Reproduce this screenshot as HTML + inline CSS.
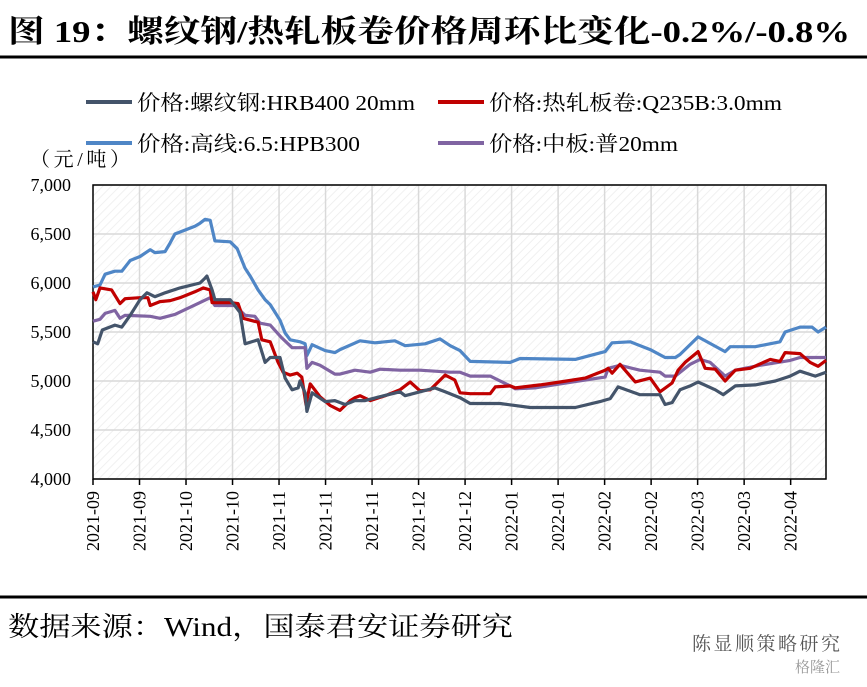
<!DOCTYPE html>
<html><head><meta charset="utf-8">
<style>
body{margin:0;background:#fff;}
svg text{font-family:"Liberation Serif","Noto Serif CJK SC",serif;}
</style></head>
<body>
<svg id="chart" width="867" height="682" viewBox="0 0 867 682" xmlns="http://www.w3.org/2000/svg">
<defs>
<pattern id="hatch" width="6" height="6" patternUnits="userSpaceOnUse" patternTransform="rotate(45)">
<rect width="6" height="6" fill="#fff"/><line x1="0" y1="0" x2="0" y2="6" stroke="#ececec" stroke-width="1.5"/>
</pattern>
</defs>
<text x="8" y="42" font-size="31" font-weight="bold" textLength="842" lengthAdjust="spacingAndGlyphs">图 19：螺纹钢/热轧板卷价格周环比变化-0.2%/-0.8%</text>
<line x1="0" y1="57" x2="867" y2="57" stroke="#000" stroke-width="3"/>
<line x1="0" y1="597" x2="867" y2="597" stroke="#000" stroke-width="3"/>
<text x="8" y="636" font-size="27" textLength="505" lengthAdjust="spacingAndGlyphs">数据来源：Wind，国泰君安证券研究</text>
<text x="692" y="650" font-size="19" fill="#555" textLength="148" font-family="Noto Sans CJK SC,sans-serif">陈显顺策略研究</text>
<text x="795" y="672" font-size="15" fill="#999" font-family="Noto Sans CJK SC,sans-serif">格隆汇</text>

<g>
<g><line x1="86" y1="102" x2="132" y2="102" stroke="#44546a" stroke-width="4"/><text x="137" y="110" font-size="21" textLength="278" lengthAdjust="spacingAndGlyphs">价格:螺纹钢:HRB400 20mm</text></g>
<g><line x1="438" y1="102" x2="484" y2="102" stroke="#c00000" stroke-width="4"/><text x="489" y="110" font-size="21" textLength="293" lengthAdjust="spacingAndGlyphs">价格:热轧板卷:Q235B:3.0mm</text></g>
<g><line x1="86" y1="143" x2="132" y2="143" stroke="#4f86c6" stroke-width="4"/><text x="137" y="151" font-size="21" textLength="223" lengthAdjust="spacingAndGlyphs">价格:高线:6.5:HPB300</text></g>
<g><line x1="438" y1="143" x2="484" y2="143" stroke="#8064a2" stroke-width="4"/><text x="489" y="151" font-size="21" textLength="189" lengthAdjust="spacingAndGlyphs">价格:中板:普20mm</text></g>
</g>
<text x="30" y="166" font-size="20" textLength="100">（元/吨）</text>
<rect x="93" y="185" width="733" height="294" fill="url(#hatch)"/>
<g id="grid"></g>
<g id="axes"></g>
<g id="series"></g>
</svg>
<script>
const yTicks=[4000,4500,5000,5500,6000,6500,7000];
const xLabels=["2021-09","2021-09","2021-10","2021-10","2021-11","2021-11","2021-11","2021-12","2021-12","2022-01","2022-01","2022-02","2022-02","2022-03","2022-03","2022-04"];
const seriesNames=["hrb400","q235b","hpb300","plate"];
const hrbDay=[0,1,2,4.7,6.2,8,10.1,11.6,13.3,15.5,18.7,23,24.1,24.5,25.6,26.2,29.5,31.6,32.7,35.5,37,38.1,40.2,41.3,42.8,44.1,44.5,45.6,46,47.1,49.9,52,54.2,56.3,58.5,61.7,66,67.1,70.3,73.5,75.7,78.9,81.1,87.5,94,103.7,109,111.2,112.9,117.6,121.9,123,124.5,126.2,128.4,130.1,133.8,135.5,138.1,142.4,146.7,149.9,152,155.3,157.6];
const hrbVal=[5400,5380,5520,5570,5550,5670,5830,5900,5860,5900,5950,6000,6050,6070,5930,5830,5830,5700,5380,5420,5190,5240,5240,5030,4910,4930,5000,4880,4690,4880,4790,4800,4760,4800,4800,4840,4890,4850,4890,4930,4890,4830,4770,4770,4730,4730,4790,4820,4940,4860,4860,4760,4780,4910,4950,4990,4910,4860,4950,4960,5000,5050,5100,5050,5090];
const q235Day=[0,0.6,1.5,4,5.8,6.9,10.1,11.8,12.3,14.4,16.6,18.7,21.9,23.7,25.2,25.6,29.5,31.2,32.3,33.8,35.5,36.3,38.1,39.8,40.9,42.4,43.9,44.9,45.8,46.7,48.8,51,53.1,55.3,56.3,57.4,59.6,62.8,66,68.2,70.3,72.5,75.7,77.8,78.9,81.1,85.4,86.5,89.7,90.8,96.1,100.4,105.8,110.1,110.8,111.6,113.3,116.6,119.8,121.9,124.5,125.8,127.3,130.1,131.6,133.8,135.9,138.1,141.3,145.6,147.7,148.8,152,154.2,155.9,157.6];
const q235Val=[5910,5830,5950,5930,5790,5840,5850,5850,5770,5810,5820,5850,5910,5950,5930,5800,5800,5790,5640,5620,5600,5420,5400,5190,5090,5060,5080,5040,4760,4970,4840,4750,4700,4800,4830,4850,4800,4850,4910,4990,4900,4910,5060,5010,4880,4870,4870,4940,4950,4930,4960,4990,5030,5110,5130,5080,5170,4990,5030,4890,4980,5110,5190,5300,5130,5120,5000,5110,5130,5220,5200,5290,5280,5190,5150,5210];
const hpbDay=[0,1.5,2.6,4.7,6.2,8,10.1,12.3,13.3,15.5,16.6,17.6,21.9,23,24.1,25.2,26.2,29.5,31,32.7,33.8,35.5,37,38.1,40.2,41.3,42.4,44.5,45.6,46,47.1,49.9,52,53.1,57.4,60.6,64.9,67.1,71.4,74.6,76.8,78.9,81.1,89.7,91.8,103.7,110.1,111.6,115.5,119.8,123,125.2,126.2,130.1,135.9,137,142.4,147.7,148.8,152,154.6,155.9,157.6];
const hpbVal=[5960,5980,6090,6120,6120,6230,6270,6340,6310,6320,6410,6500,6580,6610,6650,6640,6430,6420,6350,6150,6070,5930,5830,5780,5620,5490,5420,5400,5380,5260,5370,5310,5290,5320,5410,5390,5410,5360,5380,5430,5360,5310,5200,5190,5230,5220,5300,5390,5400,5320,5240,5240,5270,5450,5300,5350,5350,5400,5500,5550,5550,5500,5550];
const plateDay=[0,1.5,2.6,4.7,5.8,6.9,12.3,14.4,17.6,23,25.2,26.2,30.5,32.7,34.8,35.9,38.1,40.6,42.8,45.6,46,47.1,48.8,52,53.1,56.3,59.6,61.7,66,70.3,76.8,78.9,81.1,85.4,89.7,90.8,95,100.4,105.8,110.1,110.8,113.3,117.6,121.9,123,125.2,128.4,130.5,132.7,135.9,138.1,143.4,149.9,152,157.6];
const plateVal=[5610,5630,5690,5720,5640,5670,5660,5640,5680,5800,5850,5770,5770,5670,5660,5590,5570,5440,5340,5340,5130,5190,5160,5070,5070,5110,5090,5120,5110,5110,5090,5090,5050,5050,4950,4920,4930,4970,5010,5040,5130,5160,5110,5090,5050,5050,5170,5220,5190,5050,5110,5160,5210,5240,5240];
const colors=["#44546a","#c00000","#4f86c6","#8064a2"];
const X0=93,X1=826,Y0=479,Y1=185,DAYS=157.6,TICKSTEP=10;
const xs=d=>X0+d*(X1-X0)/DAYS;
const ys=v=>Y0-(v-4000)*(Y0-Y1)/3000;
const NS="http://www.w3.org/2000/svg";
function mk(tag,attrs,parent){const e=document.createElementNS(NS,tag);for(const k in attrs)e.setAttribute(k,attrs[k]);parent.appendChild(e);return e;}
const grid=document.getElementById('grid'),axes=document.getElementById('axes'),ser=document.getElementById('series');
yTicks.forEach(v=>{
  const l=mk('line',{x1:X0,x2:X1,y1:ys(v),y2:ys(v),stroke:'#d9d9d9','stroke-width':1.5},grid);
  
  
  const t=mk('text',{x:71,y:ys(v)+6,'text-anchor':'end','font-size':18},axes);
  t.textContent=v.toLocaleString('en-US');
  
  
});
xLabels.forEach((s,i)=>{
  const x=xs(i*TICKSTEP);
  if(i>0){const g=mk('line',{x1:x,x2:x,y1:Y1,y2:Y0,stroke:'#d9d9d9','stroke-width':1.5},grid);
  
  }
  const tk=mk('line',{x1:x,x2:x,y1:Y0,y2:Y0+6,stroke:'#000','stroke-width':1.5},axes);
  
  
  const t=mk('text',{x:0,y:0,'font-size':18,'text-anchor':'end',transform:`translate(${x+6},${Y0+12}) rotate(-90)`},axes);
  t.textContent=s;
  
  
});
const frame=mk('rect',{x:X0,y:Y1,width:X1-X0,height:Y0-Y1,fill:'none',stroke:'#000','stroke-width':1.5},axes);


const data=[[hrbDay,hrbVal],[q235Day,q235Val],[hpbDay,hpbVal],[plateDay,plateVal]];
[2,3,1,0].forEach(k=>{
  const [d,v]=data[k];
  const pts=d.map((di,i)=>xs(di).toFixed(1)+','+ys(v[i]).toFixed(1)).join(' ');
  const p=mk('polyline',{points:pts,fill:'none',stroke:colors[k],'stroke-width':3.2,'stroke-linejoin':'round'},ser);
  
  
});
</script>
</body></html>
